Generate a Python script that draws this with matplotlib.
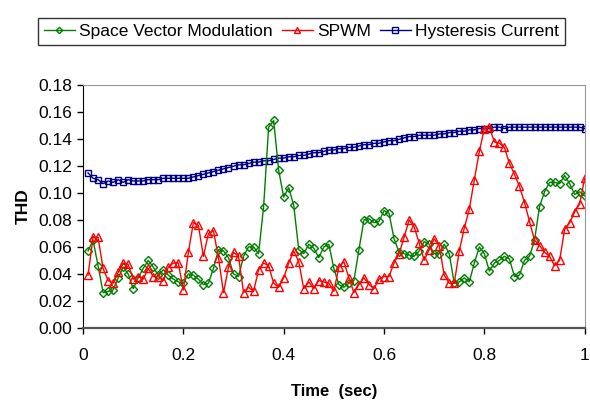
import numpy as np
import matplotlib.pyplot as plt

plt.rcParams['font.family'] = ['Liberation Sans', 'DejaVu Sans']

# time axis (sec)
time = np.round(np.arange(1, 101) * 0.01, 2)

# THD values
svm = [0.057, 0.065, 0.046, 0.026, 0.027, 0.028, 0.037, 0.045, 0.040, 0.029,
       0.037, 0.044, 0.050, 0.045, 0.039, 0.043, 0.039, 0.036, 0.034, 0.033,
       0.040, 0.039, 0.036, 0.032, 0.033, 0.044, 0.058, 0.057, 0.052, 0.040,
       0.038, 0.053, 0.060, 0.060, 0.055, 0.090, 0.149, 0.154, 0.117, 0.097,
       0.104, 0.091, 0.058, 0.055, 0.062, 0.059, 0.052, 0.060, 0.062, 0.044,
       0.032, 0.030, 0.033, 0.035, 0.058, 0.080, 0.081, 0.078, 0.079, 0.087,
       0.085, 0.066, 0.056, 0.055, 0.054, 0.053, 0.057, 0.064, 0.062, 0.055,
       0.055, 0.062, 0.055, 0.033, 0.034, 0.037, 0.034, 0.048, 0.060, 0.055,
       0.042, 0.048, 0.050, 0.053, 0.051, 0.038, 0.039, 0.050, 0.053, 0.065,
       0.090, 0.101, 0.108, 0.108, 0.107, 0.113, 0.107, 0.099, 0.101, 0.098]

spwm = [0.039, 0.067, 0.067, 0.044, 0.035, 0.033, 0.041, 0.048, 0.047, 0.036,
        0.038, 0.036, 0.044, 0.038, 0.038, 0.035, 0.045, 0.048, 0.048, 0.028,
        0.056, 0.078, 0.076, 0.053, 0.070, 0.072, 0.052, 0.026, 0.045, 0.056,
        0.053, 0.026, 0.030, 0.027, 0.043, 0.048, 0.046, 0.033, 0.030, 0.037,
        0.048, 0.057, 0.049, 0.029, 0.034, 0.029, 0.035, 0.034, 0.033, 0.027,
        0.045, 0.049, 0.037, 0.026, 0.032, 0.037, 0.032, 0.029, 0.036, 0.038,
        0.038, 0.048, 0.055, 0.067, 0.080, 0.075, 0.063, 0.050, 0.058, 0.066,
        0.061, 0.039, 0.033, 0.033, 0.057, 0.074, 0.088, 0.110, 0.131, 0.148,
        0.149, 0.138, 0.137, 0.134, 0.122, 0.114, 0.105, 0.093, 0.079, 0.065,
        0.061, 0.056, 0.053, 0.046, 0.050, 0.073, 0.078, 0.086, 0.092, 0.111]

hysteresis = [0.115, 0.111, 0.110, 0.107, 0.109, 0.108, 0.110, 0.108, 0.110, 0.109,
              0.109, 0.109, 0.110, 0.110, 0.110, 0.111, 0.111, 0.111, 0.111, 0.111,
              0.111, 0.112, 0.113, 0.114, 0.115, 0.116, 0.117, 0.118, 0.119, 0.120,
              0.121, 0.121, 0.122, 0.123, 0.123, 0.124, 0.124, 0.125, 0.126, 0.126,
              0.127, 0.127, 0.128, 0.128, 0.129, 0.130, 0.130, 0.131, 0.132, 0.132,
              0.133, 0.133, 0.134, 0.134, 0.135, 0.136, 0.136, 0.137, 0.137, 0.138,
              0.139, 0.139, 0.140, 0.141, 0.142, 0.142, 0.143, 0.143, 0.143, 0.143,
              0.144, 0.144, 0.145, 0.145, 0.146, 0.146, 0.147, 0.147, 0.148, 0.148,
              0.148, 0.149, 0.149, 0.148, 0.149, 0.149, 0.149, 0.149, 0.149, 0.149,
              0.149, 0.149, 0.149, 0.149, 0.149, 0.149, 0.149, 0.149, 0.149, 0.148]

fig = plt.figure(figsize=(5.9, 4.05), dpi=100)
ax = fig.add_axes([0.1407, 0.191, 0.8503, 0.598])

l_hc, = ax.plot(time, hysteresis, color='#000080', lw=1, marker='s', ms=5,
                mfc='none', mew=1, label='Hysteresis Current')
l_svm, = ax.plot(time, svm, color='#008000', lw=1, marker='D', ms=4,
                 mfc='none', mew=1, label='Space Vector Modulation')
l_spwm, = ax.plot(time, spwm, color='#FF0000', lw=1, marker='^', ms=5.5,
                  mfc='none', mew=1, label='SPWM')

ax.set_xlim(0, 1)
ax.set_ylim(0, 0.18)
ax.set_yticks(np.arange(0, 0.181, 0.02))
ax.set_yticklabels([f'{v:.2f}' for v in np.arange(0, 0.181, 0.02)])
ax.set_xticks([0, 0.2, 0.4, 0.6, 0.8, 1])
ax.set_xticklabels(['0', '0.2', '0.4', '0.6', '0.8', '1'])
ax.tick_params(axis='both', labelsize=12.5, length=4, width=1, color='black')
ax.tick_params(axis='x', pad=11)

for side in ['top', 'right']:
    ax.spines[side].set_color('#999999')
ax.spines['left'].set_color('black')
ax.spines['bottom'].set_color('#555555')
ax.spines['bottom'].set_linewidth(1.6)

ax.set_ylabel('THD', fontsize=12.5, fontweight='bold', labelpad=6)
ax.set_xlabel('Time  (sec)', fontsize=12, fontweight='bold', labelpad=15)

leg = fig.legend(handles=[l_svm, l_spwm, l_hc], loc='center',
                 bbox_to_anchor=(0.511, 0.923), ncol=3, fontsize=12.5,
                 frameon=True, fancybox=False, edgecolor='black',
                 handlelength=1.8, handletextpad=0.25, columnspacing=0.5,
                 borderpad=0.35, markerscale=0.8)
leg.get_frame().set_linewidth(1)

fig.savefig('out.png', dpi=100)
